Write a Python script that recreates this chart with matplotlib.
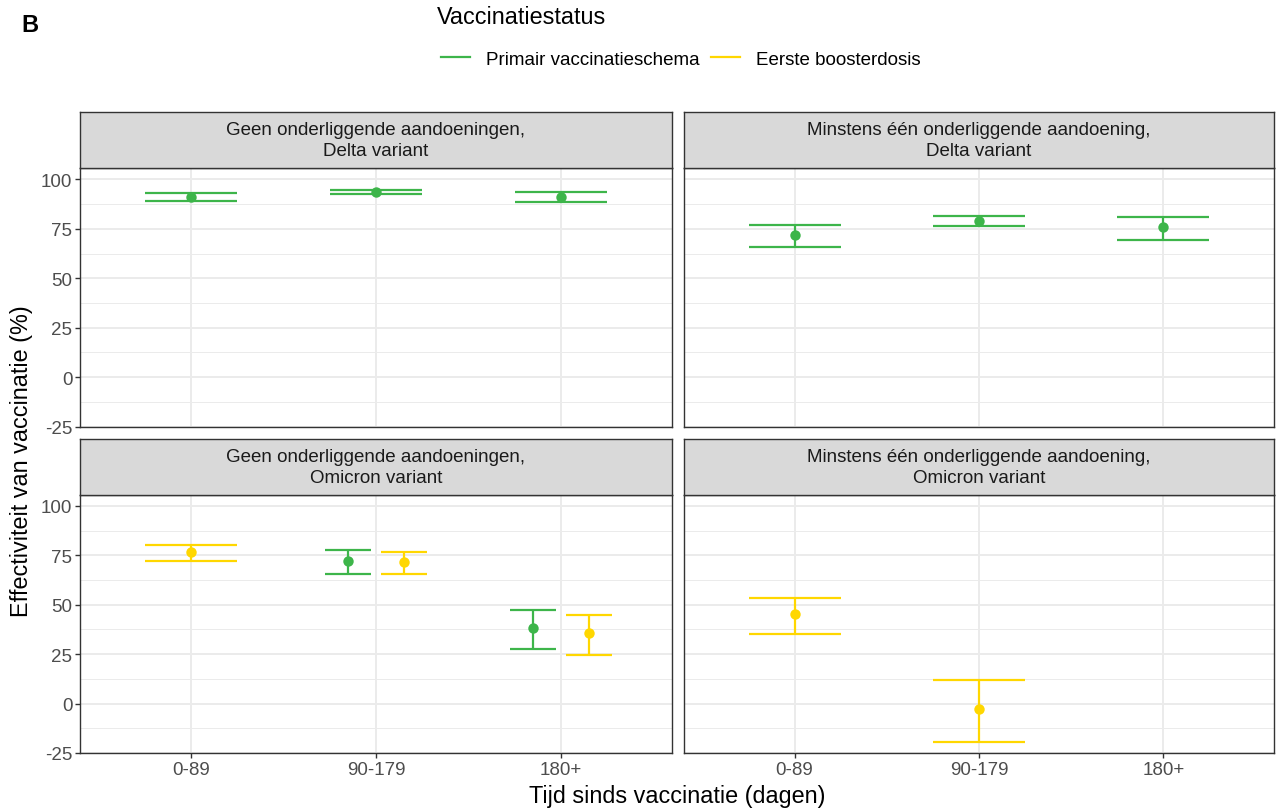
import numpy as np
import matplotlib
matplotlib.use("Agg")
import matplotlib.pyplot as plt
from matplotlib.lines import Line2D

plt.rcParams['font.family'] = ['Liberation Sans', 'DejaVu Sans']

# ---------------- data ----------------
categories = ['0-89', '90-179', '180+']
series_names = ['Primair vaccinatieschema', 'Eerste boosterdosis']
series_colors = ['#3DB54A', '#FFD700']
facet_titles = [
    'Geen onderliggende aandoeningen,\nDelta variant',
    'Minstens één onderliggende aandoening,\nDelta variant',
    'Geen onderliggende aandoeningen,\nOmicron variant',
    'Minstens één onderliggende aandoening,\nOmicron variant',
]
nan = np.nan
# Primair vaccinatieschema (per facet: estimate, lower, upper)
primair_est = [[91.1, 93.8, 91.3], [72.1, 78.9, 75.8], [nan, 72.2, 38.2], [nan, nan, nan]]
primair_lo = [[88.9, 92.6, 88.3], [66.0, 76.6, 69.5], [nan, 65.8, 27.7], [nan, nan, nan]]
primair_hi = [[93.3, 94.8, 93.8], [77.1, 81.3, 80.8], [nan, 77.6, 47.4], [nan, nan, nan]]
# Eerste boosterdosis
booster_est = [[nan, nan, nan], [nan, nan, nan], [76.6, 71.7, 35.6], [45.2, -2.7, nan]]
booster_lo = [[nan, nan, nan], [nan, nan, nan], [72.2, 65.6, 24.6], [35.1, -19.5, nan]]
booster_hi = [[nan, nan, nan], [nan, nan, nan], [80.3, 76.9, 44.7], [53.6, 12.1, nan]]
y_ticks = [-25, 0, 25, 50, 75, 100]

est_all = [primair_est, booster_est]
lo_all = [primair_lo, booster_lo]
hi_all = [primair_hi, booster_hi]

# ---------------- figure ----------------
W, H = 1276, 812
fig = plt.figure(figsize=(W / 100, H / 100), dpi=100)


def fx(px):
    return px / W


def fy(py):
    return 1 - py / H


panel_x = [(80, 672), (684, 1274)]
panel_y = [(169, 427.7), (495.7, 754)]
strip_y = [(113, 169), (440, 495.7)]

DODGE = 0.6
BAR_W = 0.5
tick_size = 13.5

for fi in range(4):
    r, c = divmod(fi, 2)
    x0, x1 = panel_x[c]
    y0, y1 = panel_y[r]
    ax = fig.add_axes([fx(x0), fy(y1), fx(x1) - fx(x0), fy(y0) - fy(y1)])
    ax.set_xlim(0.4, 3.6)
    ax.set_ylim(-25, 105.7)
    ax.set_facecolor('white')
    # grid
    for v in [-12.5, 12.5, 37.5, 62.5, 87.5]:
        ax.axhline(v, color='#EBEBEB', lw=0.7, zorder=0)
    for v in y_ticks:
        ax.axhline(v, color='#EBEBEB', lw=1.4, zorder=0)
    for v in [1, 2, 3]:
        ax.axvline(v, color='#EBEBEB', lw=1.4, zorder=0)

    # which series present at each x (dodged like ggplot position_dodge)
    for xi in range(3):
        present = [s for s in range(2) if not np.isnan(est_all[s][fi][xi])]
        n = len(present)
        for gi, s in enumerate(present):
            xc = (xi + 1) + DODGE * ((gi + 0.5) / n - 0.5)
            hw = BAR_W / n / 2
            col = series_colors[s]
            lo = lo_all[s][fi][xi]
            hi = hi_all[s][fi][xi]
            est = est_all[s][fi][xi]
            ax.plot([xc, xc], [lo, hi], color=col, lw=1.6, solid_capstyle='butt', zorder=3)
            ax.plot([xc - hw, xc + hw], [lo, lo], color=col, lw=1.6, solid_capstyle='butt', zorder=3)
            ax.plot([xc - hw, xc + hw], [hi, hi], color=col, lw=1.6, solid_capstyle='butt', zorder=3)
            ax.plot([xc], [est], 'o', color=col, ms=7.5, mec='none', zorder=4)

    for sp in ax.spines.values():
        sp.set_color('#333333')
        sp.set_linewidth(1.0)

    ax.set_xticks([1, 2, 3])
    ax.set_yticks(y_ticks)
    ax.tick_params(axis='both', length=3.5, width=1.0, color='#333333',
                   labelcolor='#4D4D4D', labelsize=tick_size, pad=2)
    if r == 1:
        ax.set_xticklabels(categories)
    else:
        ax.tick_params(axis='x', length=0, labelbottom=False)
    if c == 0:
        ax.set_yticklabels([str(v) for v in y_ticks])
    else:
        ax.tick_params(axis='y', length=0, labelleft=False)

    # strip
    sy0, sy1 = strip_y[r]
    sax = fig.add_axes([fx(x0), fy(sy1), fx(x1) - fx(x0), fy(sy0) - fy(sy1)])
    sax.set_xlim(0, 1)
    sax.set_ylim(0, 1)
    sax.set_xticks([])
    sax.set_yticks([])
    sax.set_facecolor('#D9D9D9')
    for sp in sax.spines.values():
        sp.set_color('#333333')
        sp.set_linewidth(1.0)
    sax.text(0.5, 0.5, facet_titles[fi], ha='center', va='center',
             fontsize=tick_size, color='#1A1A1A', linespacing=1.3)

# axis titles
fig.text(fx(677), fy(797), 'Tijd sinds vaccinatie (dagen)', ha='center', va='center',
         fontsize=16.8, color='black')
fig.text(fx(22), fy(461), 'Effectiviteit van vaccinatie (%)', ha='center', va='center',
         rotation=90, fontsize=16.8, color='black')

# tag
fig.text(fx(21), fy(26), 'B', ha='left', va='center', fontsize=17, fontweight='bold')

# legend
fig.text(fx(437), fy(18), 'Vaccinatiestatus', ha='left', va='center', fontsize=16.8)
handles = [Line2D([], [], color=series_colors[i], lw=1.6) for i in range(2)]
fig.legend(handles, series_names, loc='center left', bbox_to_anchor=(fx(441), fy(60)),
           ncol=2, frameon=False, fontsize=tick_size, handlelength=1.55,
           handletextpad=0.85, columnspacing=0.6, borderpad=0, borderaxespad=0)

fig.savefig('out.png', dpi=100, facecolor='white')
